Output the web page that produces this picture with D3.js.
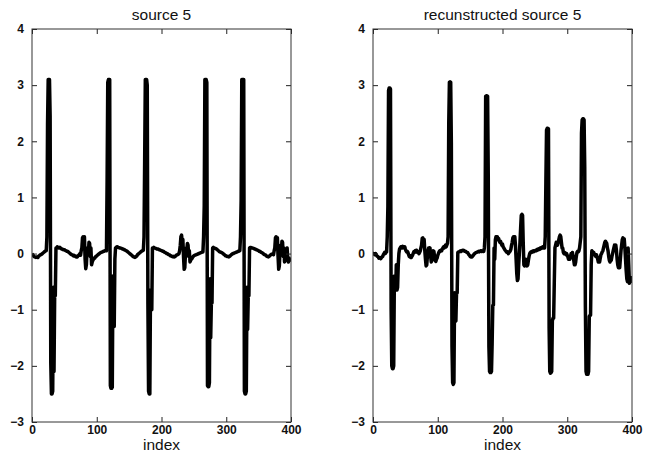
<!DOCTYPE html>
<html>
<head>
<meta charset="utf-8">
<script src="https://cdn.jsdelivr.net/npm/d3@7"></script>
<style>
  html, body { margin: 0; padding: 0; background: #fff; }
  svg { display: block; }
  .tick text { font-family: "Liberation Sans", Arial, sans-serif; font-size: 12px; font-weight: bold; fill: #111; }
  .title, .xlabel { font-family: "Liberation Sans", Arial, sans-serif; font-size: 15.5px; fill: #111; }
</style>
</head>
<body>
<svg id="chart" width="651" height="453"></svg>
<script>
// Panel titles and axis ticks
const titles = ["source 5", "recunstructed source 5"];
const xLabel = "index";
const xTicks = [0, 100, 200, 300, 400];
const yTicks = [-3, -2, -1, 0, 1, 2, 3, 4];

// Source signal, one value per sample index 0..399
const source5 = [
  0.0, -0.02, -0.03, -0.05, -0.06, -0.06, -0.07, -0.06, -0.06, -0.07,
  -0.05, -0.04, -0.03, -0.02, -0.02, -0.01, 0.0, 0.01, 0.02, 0.03,
  0.04, 0.05, 0.05, 0.3, 2.3, 3.1, 3.1, 3.1, 2.45, -1.95,
  -2.5, -2.5, -2.45, -0.6, -2.1, -0.75, -0.75, 0.1, 0.1, 0.12,
  0.11, 0.1, 0.1, 0.11, 0.1, 0.09, 0.08, 0.08, 0.07, 0.07,
  0.07, 0.06, 0.05, 0.05, 0.04, 0.04, 0.03, 0.02, 0.01, 0.0,
  -0.01, -0.02, -0.02, -0.03, -0.04, -0.03, -0.04, -0.05, -0.06, -0.05,
  -0.06, -0.04, -0.03, -0.02, 0.0, -0.03, 0.05, 0.1, 0.28, 0.3,
  0.15, 0.3, -0.1, -0.27, -0.2, 0.05, 0.1, 0.0, 0.2, 0.18,
  -0.05, 0.1, -0.2, -0.15, -0.12, -0.1, -0.08, -0.08, -0.06, -0.05,
  -0.04, -0.03, -0.02, -0.01, 0.0, 0.01, 0.02, 0.02, 0.03, 0.03,
  0.04, 0.04, 0.05, 0.05, 0.06, 0.05, 1.3, 3.05, 3.1, 3.1,
  3.1, -2.35, -2.4, -2.4, -2.38, -0.4, -1.3, -1.3, -0.1, 0.1,
  0.11, 0.12, 0.12, 0.11, 0.11, 0.1, 0.1, 0.1, 0.09, 0.09,
  0.08, 0.08, 0.07, 0.07, 0.06, 0.05, 0.05, 0.04, 0.03, 0.02,
  0.01, 0.0, -0.01, -0.02, -0.03, -0.04, -0.05, -0.06, -0.06, -0.07,
  -0.06, -0.05, -0.04, -0.02, -0.01, 0.0, 0.01, 0.02, 0.03, 0.04,
  0.05, 0.05, 0.06, 0.3, 1.65, 3.1, 3.1, 3.1, 3.0, -0.9,
  -2.45, -2.5, -2.5, -0.65, -1.0, -1.0, 0.1, 0.1, 0.11, 0.1,
  0.1, 0.09, 0.09, 0.08, 0.08, 0.08, 0.07, 0.07, 0.06, 0.06,
  0.05, 0.05, 0.04, 0.04, 0.03, 0.02, 0.02, 0.01, 0.0, 0.0,
  -0.01, -0.02, -0.02, -0.03, -0.04, -0.04, -0.05, -0.05, -0.06, -0.05,
  -0.06, -0.05, -0.04, -0.03, -0.02, -0.02, -0.01, 0.0, 0.05, 0.15,
  0.3, 0.33, 0.2, 0.25, -0.05, -0.28, -0.25, 0.0, 0.1, 0.05,
  0.18, 0.15, -0.05, 0.05, -0.15, -0.12, -0.1, -0.09, -0.07, -0.05,
  -0.04, -0.03, -0.03, -0.02, -0.02, -0.01, -0.01, 0.0, 0.0, 0.01,
  0.01, 0.02, 0.02, 0.03, 0.03, 0.3, 0.85, 3.1, 3.1, 3.1,
  3.05, -2.35, -2.37, -2.37, -2.3, -0.45, -1.5, -0.88, -0.88, 0.1,
  0.11, 0.1, 0.1, 0.09, 0.09, 0.08, 0.07, 0.06, 0.05, 0.04,
  0.03, 0.03, 0.02, 0.02, 0.01, 0.0, -0.01, -0.02, -0.03, -0.04,
  -0.04, -0.05, -0.05, -0.05, -0.06, -0.05, -0.04, -0.03, -0.02, -0.01,
  0.0, 0.0, 0.01, 0.01, 0.02, 0.02, 0.03, 0.03, 0.04, 0.04,
  0.05, 0.05, 0.3, 0.95, 3.1, 3.1, 3.1, 3.1, -2.45, -2.5,
  -2.5, -2.45, -0.6, -1.35, -0.75, -0.75, 0.1, 0.11, 0.11, 0.1,
  0.1, 0.1, 0.09, 0.09, 0.08, 0.08, 0.07, 0.07, 0.06, 0.06,
  0.05, 0.04, 0.04, 0.03, 0.02, 0.02, 0.01, 0.0, -0.01, -0.02,
  -0.02, -0.03, -0.04, -0.05, -0.05, -0.06, -0.05, -0.04, -0.03, -0.02,
  -0.01, -0.01, 0.0, -0.02, 0.05, 0.1, 0.28, 0.3, 0.15, 0.28,
  -0.05, -0.28, -0.22, 0.05, 0.15, 0.0, 0.22, 0.2, -0.05, 0.1,
  -0.15, -0.12, -0.1, 0.05, 0.1, -0.1, -0.15, -0.08, -0.12, -0.1
];

// Reconstructed signal, one value per sample index 0..399
const recon5 = [
  0.0, 0.0, -0.01, -0.02, 0.0, -0.02, -0.04, -0.05, -0.06, -0.08,
  -0.07, -0.08, -0.09, -0.07, -0.06, -0.05, -0.02, 0.0, 0.02, 0.0,
  0.02, 0.03, 0.3, 0.84, 2.9, 2.95, 2.95, 2.93, -1.0, -2.0,
  -2.05, -2.05, -2.0, -0.4, -0.65, -0.65, -0.2, -0.65, -0.6, -0.2,
  0.0, 0.08, 0.1, 0.12, 0.12, 0.1, 0.13, 0.12, 0.1, 0.12,
  0.08, 0.05, 0.03, 0.04, 0.02, -0.02, -0.05, -0.06, -0.04, -0.07,
  -0.05, -0.03, 0.0, 0.03, 0.02, 0.05, 0.03, 0.06, 0.04, 0.02,
  0.03, 0.0, 0.02, 0.05, 0.1, 0.15, 0.27, 0.28, 0.2, 0.25,
  0.05, -0.1, -0.22, -0.2, -0.05, 0.05, 0.1, 0.08, 0.1, -0.05,
  -0.15, -0.12, 0.02, 0.05, 0.04, -0.05, -0.12, -0.14, -0.1, -0.08,
  -0.03, 0.0, 0.03, 0.05, 0.04, 0.06, 0.05, 0.08, 0.1, 0.12,
  0.1, 0.13, 0.15, 0.12, 0.15, 0.18, 0.3, 2.32, 3.05, 3.06,
  3.05, 1.97, -1.66, -2.3, -2.33, -2.3, -0.7, -1.18, -1.2, -0.7,
  -0.7, 0.02, 0.03, 0.03, 0.04, 0.05, 0.04, 0.05, 0.06, 0.05,
  0.06, 0.05, 0.04, 0.04, 0.03, 0.02, 0.02, 0.0, -0.02, -0.03,
  -0.05, -0.06, -0.05, -0.06, -0.04, -0.03, -0.01, 0.0, 0.01, 0.02,
  0.02, 0.03, 0.03, 0.04, 0.03, 0.04, 0.05, 0.05, 0.04, 0.05,
  0.05, 0.04, 0.1, 0.3, 2.8, 2.81, 2.81, 2.8, 1.4, -1.66,
  -2.1, -2.12, -2.12, -2.1, -1.6, -0.92, -0.92, 0.1, -0.1, 0.25,
  0.3, 0.28, 0.3, 0.25, 0.27, 0.22, 0.2, 0.22, 0.18, 0.15,
  0.17, 0.12, 0.1, 0.08, 0.06, 0.05, 0.03, 0.02, 0.03, 0.0,
  0.02, 0.03, 0.05, 0.08, 0.15, 0.2, 0.28, 0.3, 0.25, 0.3,
  0.15, -0.1, -0.35, -0.48, -0.45, -0.2, 0.0, 0.2, 0.45, 0.68,
  0.7, 0.68, 0.2, -0.2, -0.22, -0.2, -0.1, -0.18, -0.22, -0.2,
  -0.12, -0.05, 0.0, 0.02, 0.03, 0.02, 0.04, 0.03, 0.05, 0.04,
  0.05, 0.06, 0.05, 0.07, 0.06, 0.08, 0.07, 0.09, 0.08, 0.1,
  0.09, 0.1, 0.12, 0.1, 0.12, 0.1, 0.3, 1.28, 2.2, 2.23,
  2.23, 2.22, -1.33, -2.1, -2.13, -2.12, -2.1, -1.2, -1.15, -1.15,
  -0.5, 0.1, 0.15, 0.2, 0.18, 0.15, 0.2, 0.25, 0.3, 0.33,
  0.3, 0.2, 0.1, 0.1, 0.02, 0.0, 0.02, 0.0, -0.02, 0.0,
  -0.03, -0.06, -0.1, -0.08, -0.1, -0.05, 0.0, -0.02, 0.02, -0.05,
  -0.12, -0.2, -0.2, -0.15, -0.05, 0.02, 0.04, 0.03, 0.05, 0.1,
  0.2, 0.3, 2.14, 2.38, 2.4, 2.4, 2.38, 1.55, -0.95, -2.1,
  -2.15, -2.15, -2.15, -2.1, -1.12, -1.1, -1.1, -0.2, 0.05, 0.02,
  0.0, 0.02, -0.02, -0.03, -0.05, -0.02, -0.05, -0.1, -0.15, -0.12,
  -0.15, -0.08, -0.02, 0.0, 0.03, 0.05, 0.1, 0.15, 0.2, 0.22,
  0.2, 0.18, 0.1, 0.05, -0.05, -0.12, -0.15, -0.1, -0.12, -0.05,
  0.0, 0.05, 0.1, 0.15, 0.12, 0.15, 0.05, -0.1, -0.2, -0.25,
  -0.22, -0.25, -0.1, 0.05, 0.15, 0.25, 0.28, 0.22, 0.26, 0.1,
  -0.1, -0.3, -0.45, -0.5, 0.1, -0.2, -0.53, -0.45, -0.5, -0.4
];

const svg = d3.select("#chart");
const plotTop = 29, plotBottom = 422;
const panels = [
  { title: titles[0], values: source5, left: 32, right: 291 },
  { title: titles[1], values: recon5, left: 373, right: 632 }
];

const y = d3.scaleLinear().domain([-3, 4]).range([plotBottom, plotTop]);
const fmt = d3.format("");

panels.forEach((p, pi) => {
  const x = d3.scaleLinear().domain([0, 400]).range([p.left, p.right]);
  const g = svg.append("g");
  const clipId = "clip" + pi;

  svg.append("clipPath").attr("id", clipId)
    .append("rect")
    .attr("x", p.left).attr("y", plotTop)
    .attr("width", p.right - p.left).attr("height", plotBottom - plotTop);

  // Signal trace
  const line = d3.line().x((d, i) => x(i)).y(d => y(d));
  g.append("path")
    .datum(p.values)
    .attr("clip-path", `url(#${clipId})`)
    .attr("fill", "none")
    .attr("stroke", "#000")
    .attr("stroke-width", 3.5)
    .attr("stroke-linejoin", "round")
    .attr("d", line);

  // Inward ticks on all four sides
  const axB = d3.axisBottom(x).tickValues(xTicks).tickSizeInner(-5).tickSizeOuter(0).tickPadding(7).tickFormat(fmt);
  const axT = d3.axisTop(x).tickValues(xTicks).tickSizeInner(-5).tickSizeOuter(0).tickFormat("");
  const axL = d3.axisLeft(y).tickValues(yTicks).tickSizeInner(-5).tickSizeOuter(0).tickPadding(8).tickFormat(fmt);
  const axR = d3.axisRight(y).tickValues(yTicks).tickSizeInner(-5).tickSizeOuter(0).tickFormat("");

  const gB = g.append("g").attr("transform", `translate(0,${plotBottom})`).call(axB);
  const gT = g.append("g").attr("transform", `translate(0,${plotTop})`).call(axT);
  const gL = g.append("g").attr("transform", `translate(${p.left},0)`).call(axL);
  const gR = g.append("g").attr("transform", `translate(${p.right},0)`).call(axR);
  [gB, gT, gL, gR].forEach(a => {
    a.select(".domain").remove();
    a.selectAll(".tick line").attr("stroke", "#222");
  });
  gB.selectAll(".tick text").attr("dy", "0.45em");

  // Plot frame
  g.append("rect")
    .attr("x", p.left).attr("y", plotTop)
    .attr("width", p.right - p.left).attr("height", plotBottom - plotTop)
    .attr("fill", "none").attr("stroke", "#333").attr("stroke-width", 1);

  g.append("text").attr("class", "title")
    .attr("x", (p.left + p.right) / 2).attr("y", 20)
    .attr("text-anchor", "middle").text(p.title);

  g.append("text").attr("class", "xlabel")
    .attr("x", (p.left + p.right) / 2).attr("y", 450)
    .attr("text-anchor", "middle").text(xLabel);
});
</script>
</body>
</html>
